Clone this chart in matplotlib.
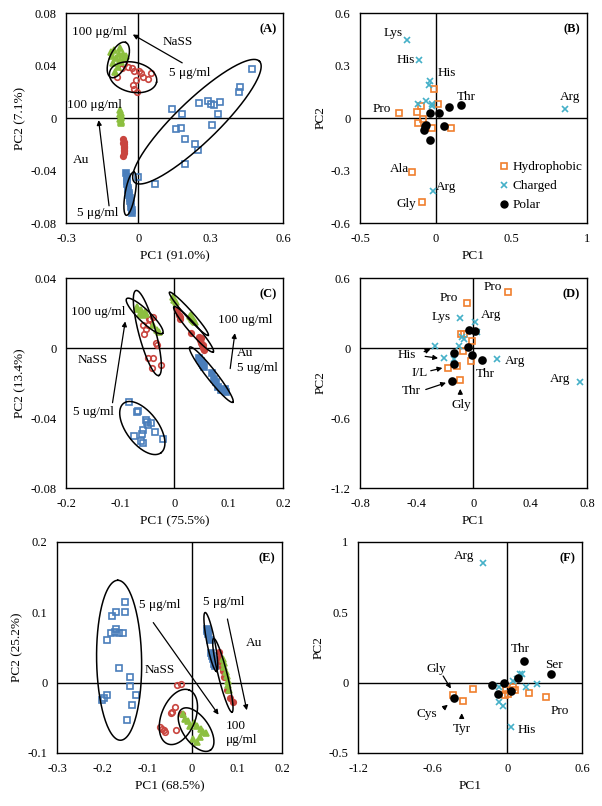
import numpy as np
import matplotlib.pyplot as plt
from matplotlib.lines import Line2D

plt.rcParams['font.family'] = ['Liberation Serif', 'DejaVu Serif']
plt.rcParams['font.size'] = 9

BLUE = '#4a7ebb'
RED = '#c9453f'
GREEN = '#8cbf3f'
ORANGE = '#f07f2e'
CYAN = '#45b0c8'

# ---------------- panel A (Au / NaSS, 5 -> 100 ug/ml)
a_nass5_x = [0.471, 0.421, 0.416, 0.251, 0.291, 0.300, 0.315, 0.337, 0.330, 0.183,
             0.140, 0.158, 0.176, 0.304, 0.192, 0.236, 0.246, 0.192, 0.070, 0.000]
a_nass5_y = [0.0375, 0.0234, 0.0196, 0.0112, 0.0132, 0.0107, 0.0097, 0.0125, 0.0033, 0.0033,
             0.0069, -0.0082, -0.0079, -0.0054, -0.0163, -0.0201, -0.0240, -0.0349, -0.0500, -0.0450]
a_nass50_x = [-0.088, -0.067, -0.061, -0.044, -0.026, -0.016, 0.002, 0.011, 0.021, 0.039,
              0.053, -0.009, -0.023, -0.019, -0.006]
a_nass50_y = [0.031, 0.038, 0.041, 0.039, 0.038, 0.036, 0.036, 0.034, 0.031, 0.030,
              0.034, 0.029, 0.025, 0.022, 0.020]
a_nass100_x = [-0.113, -0.099, -0.078, -0.062, -0.051, -0.092, -0.076, -0.106, -0.085, -0.072,
               -0.058, -0.109, -0.081, -0.095]
a_nass100_y = [0.050, 0.052, 0.053, 0.049, 0.047, 0.046, 0.044, 0.042, 0.039, 0.043,
               0.046, 0.047, 0.049, 0.035]
a_au5_x = [-0.050, -0.048, -0.046, -0.045, -0.043, -0.041, -0.040, -0.038, -0.036, -0.033,
           -0.031, -0.029, -0.027, -0.025]
a_au5_y = [-0.042, -0.045, -0.048, -0.050, -0.053, -0.055, -0.057, -0.059, -0.061, -0.063,
           -0.065, -0.068, -0.070, -0.072]
a_au50_x = [-0.062, -0.060, -0.063, -0.059, -0.061, -0.060, -0.058, -0.061, -0.059, -0.060, -0.062]
a_au50_y = [-0.016, -0.018, -0.019, -0.020, -0.021, -0.022, -0.023, -0.024, -0.025, -0.027, -0.029]
a_au100_x = [-0.074, -0.072, -0.075, -0.071, -0.073, -0.070, -0.074, -0.072, -0.071, -0.073]
a_au100_y = [0.006, 0.004, 0.003, 0.002, 0.001, 0.000, -0.001, -0.002, -0.003, -0.004]

# ---------------- panel B (loadings)
b_hyd_x = [-0.240, -0.126, -0.098, -0.009, 0.013, -0.115, -0.082, -0.023, 0.100, -0.157, -0.088]
b_hyd_y = [0.027, 0.032, 0.069, 0.164, 0.078, -0.027, -0.008, -0.055, -0.059, -0.308, -0.480]
b_chg_x = [-0.187, -0.112, -0.036, -0.042, -0.115, -0.066, -0.027, -0.023, 0.853, -0.020]
b_chg_y = [0.447, 0.329, 0.214, 0.189, 0.080, 0.099, 0.080, 0.069, 0.054, -0.417]
b_pol_x = [-0.038, 0.024, 0.087, 0.166, -0.071, -0.078, 0.058, -0.036, -0.065]
b_pol_y = [0.031, 0.027, 0.065, 0.073, -0.046, -0.069, -0.046, -0.126, -0.040]

# ---------------- panel C
c_nass5_x = [-0.083, -0.067, -0.052, -0.051, -0.049, -0.043, -0.036, -0.058, -0.059, -0.058,
             -0.075, -0.022, -0.061, -0.069]
c_nass5_y = [-0.031, -0.036, -0.041, -0.042, -0.044, -0.043, -0.048, -0.047, -0.049, -0.054,
             -0.050, -0.052, -0.053, -0.0366]
c_nass50_x = [-0.058, -0.052, -0.049, -0.046, -0.040, -0.035, -0.033, -0.049, -0.040, -0.041,
              -0.025, -0.057, -0.047]
c_nass50_y = [0.013, 0.011, 0.013, 0.0164, 0.0177, 0.003, 0.0015, -0.0057, -0.0057, -0.0114,
              -0.0095, 0.0082, 0.0168]
c_nass100_x = [-0.070, -0.064, -0.058, -0.052, -0.061, -0.055, -0.033, -0.028, -0.067, -0.040]
c_nass100_y = [0.0234, 0.0194, 0.0187, 0.0196, 0.0215, 0.0206, 0.0101, 0.0091, 0.0225, 0.013]
c_au5_x = [0.046, 0.048, 0.050, 0.052, 0.055, 0.070, 0.072, 0.076, 0.080, 0.085, 0.090, 0.093, 0.095]
c_au5_y = [-0.0055, -0.0075, -0.0085, -0.0095, -0.0110, -0.0145, -0.0175, -0.0195, -0.0225,
           -0.0240, -0.0240, -0.0235, -0.0250]
c_au50_x = [0.005, 0.008, 0.010, 0.011, 0.030, 0.045, 0.047, 0.049, 0.050, 0.052, 0.055, 0.048, 0.053]
c_au50_y = [0.0215, 0.019, 0.0165, 0.018, 0.0085, 0.0065, 0.0045, 0.0030, 0.0015, 0.000, -0.001,
            0.0055, 0.002]
c_au100_x = [-0.002, 0.000, 0.002, 0.028, 0.031, 0.033, 0.036, 0.038, 0.030, 0.034]
c_au100_y = [0.0290, 0.0275, 0.0265, 0.0185, 0.0175, 0.0165, 0.0155, 0.0148, 0.0190, 0.0160]

# ---------------- panel D
d_hyd_x = [0.242, -0.048, -0.091, -0.067, -0.010, -0.074, -0.014, -0.177, -0.115, -0.096]
d_hyd_y = [0.480, 0.389, 0.123, 0.123, 0.057, -0.029, -0.114, -0.171, -0.154, -0.277]
d_chg_x = [-0.098, 0.014, 0.026, -0.081, -0.067, -0.101, -0.273, -0.211, -0.139, 0.163, 0.752]
d_chg_y = [0.257, 0.223, 0.137, 0.094, 0.074, 0.017, 0.017, -0.086, -0.097, -0.091, -0.291]
d_pol_x = [-0.034, 0.014, -0.036, -0.134, -0.010, 0.062, -0.139, -0.153]
d_pol_y = [0.157, 0.143, 0.009, -0.040, -0.063, -0.100, -0.137, -0.280]

# ---------------- panel E
e_nass5_x = [-0.149, -0.169, -0.150, -0.177, -0.168, -0.171, -0.162, -0.154, -0.180, -0.188,
             -0.162, -0.137, -0.137, -0.124, -0.190, -0.201, -0.196, -0.134, -0.145]
e_nass5_y = [0.115, 0.101, 0.100, 0.095, 0.076, 0.072, 0.070, 0.070, 0.070, 0.060,
             0.021, 0.008, -0.005, -0.017, -0.017, -0.024, -0.022, -0.032, -0.053]
e_nass50_x = [-0.034, -0.024, -0.038, -0.045, -0.047, -0.035, -0.071, -0.066, -0.062, -0.060, -0.023]
e_nass50_y = [-0.004, -0.002, -0.035, -0.042, -0.043, -0.067, -0.063, -0.066, -0.068, -0.070, -0.044]
e_nass100_x = [-0.020, -0.015, -0.010, 0.005, 0.012, 0.020, 0.025, 0.030, 0.003, 0.010, -0.005, 0.018]
e_nass100_y = [-0.045, -0.052, -0.055, -0.058, -0.062, -0.066, -0.070, -0.072, -0.080, -0.085,
               -0.062, -0.078]
e_au5_x = [0.033, 0.035, 0.036, 0.034, 0.040, 0.042, 0.044, 0.046, 0.048, 0.050]
e_au5_y = [0.076, 0.072, 0.069, 0.074, 0.060, 0.042, 0.038, 0.033, 0.026, 0.024]
e_au50_x = [0.059, 0.062, 0.064, 0.066, 0.068, 0.072, 0.078, 0.085, 0.090]
e_au50_y = [0.044, 0.035, 0.030, 0.022, 0.016, 0.008, -0.010, -0.022, -0.027]
e_au100_x = [0.068, 0.070, 0.072, 0.075, 0.077, 0.079, 0.081, 0.083]
e_au100_y = [0.033, 0.028, 0.022, 0.015, 0.009, 0.003, -0.004, -0.010]

# ---------------- panel F
f_hyd_x = [-0.440, -0.354, -0.273, -0.010, 0.009, 0.049, 0.063, 0.178, 0.313, -0.018]
f_hyd_y = [-0.090, -0.133, -0.045, -0.054, -0.083, -0.031, -0.054, -0.073, -0.102, -0.090]
f_chg_x = [-0.193, -0.064, 0.049, 0.103, 0.116, 0.146, 0.237, -0.064, -0.031, 0.028, 0.076]
f_chg_y = [0.853, -0.031, 0.012, 0.059, 0.064, -0.031, -0.012, -0.137, -0.168, -0.315, 0.028]
f_pol_x = [-0.125, -0.074, -0.026, 0.089, 0.135, 0.350, 0.028, -0.426]
f_pol_y = [-0.019, -0.083, -0.002, 0.036, 0.154, 0.064, -0.059, -0.109]


def ellipse(ax, cx, cy, a, b, ang):
    # a, b in pixels, angle in screen degrees
    t = np.linspace(0, 2 * np.pi, 200)
    th = np.radians(ang)
    c = ax.transData.transform((cx, cy))
    dx = a * np.cos(t) * np.cos(th) - b * np.sin(t) * np.sin(th)
    dy = a * np.cos(t) * np.sin(th) + b * np.sin(t) * np.cos(th)
    pts = ax.transData.inverted().transform(np.column_stack([c[0] + dx, c[1] + dy]))
    ax.plot(pts[:, 0], pts[:, 1], color='black', lw=1.1, zorder=4)


def arrow(ax, tail, head):
    ax.annotate('', xy=head, xytext=tail,
                arrowprops=dict(arrowstyle='-|>', color='black', lw=0.9, mutation_scale=7))


def pts(ax, x, y, color, marker, filled, ms=4.5):
    ax.plot(x, y, ls='none', marker=marker, ms=ms, mec=color, mew=1.2,
            mfc=color if filled else 'none', zorder=3)


def setup(ax, xlim, ylim, xt, xtl, yt, ytl, xlabel, ylabel, tag):
    ax.set_xlim(xlim)
    ax.set_ylim(ylim)
    ax.set_xticks(xt)
    ax.set_xticklabels(xtl)
    ax.set_yticks(yt)
    ax.set_yticklabels(ytl)
    ax.tick_params(length=0, labelsize=9, pad=7)
    ax.axhline(0, color='black', lw=1, zorder=1)
    ax.axvline(0, color='black', lw=1, zorder=1)
    for sp in ax.spines.values():
        sp.set_linewidth(1)
    ax.set_xlabel(xlabel, fontsize=9.5, labelpad=4)
    ax.set_ylabel(ylabel, fontsize=9.5, labelpad=3)
    ax.text(0.97, 0.95, tag, transform=ax.transAxes, ha='right', va='top',
            fontsize=9, fontweight='bold')


fig = plt.figure(figsize=(6.02, 8.06), dpi=100)
axA = fig.add_axes([0.1096, 0.7233, 0.3605, 0.2605])
axB = fig.add_axes([0.598, 0.7233, 0.377, 0.2605])
axC = fig.add_axes([0.1096, 0.3945, 0.3605, 0.2605])
axD = fig.add_axes([0.598, 0.3945, 0.377, 0.2605])
axE = fig.add_axes([0.0947, 0.0658, 0.3738, 0.2618])
axF = fig.add_axes([0.5947, 0.0658, 0.3721, 0.2618])

TS = 9.5

# ---- A
setup(axA, (-0.3, 0.6), (-0.08, 0.08), [-0.3, 0, 0.3, 0.6], ['-0.3', '0', '0.3', '0.6'],
      [-0.08, -0.04, 0, 0.04, 0.08], ['-0.08', '-0.04', '0', '0.04', '0.08'],
      'PC1 (91.0%)', 'PC2 (7.1%)', '(A)')
pts(axA, a_nass5_x, a_nass5_y, BLUE, 's', False, 4)
pts(axA, a_nass50_x, a_nass50_y, RED, 'o', False, 4)
pts(axA, a_nass100_x, a_nass100_y, GREEN, '^', True, 4.5)
pts(axA, a_au5_x, a_au5_y, BLUE, 's', True, 4)
pts(axA, a_au50_x, a_au50_y, RED, 'o', True, 4)
pts(axA, a_au100_x, a_au100_y, GREEN, '^', True, 4)
ellipse(axA, -0.083, 0.0443, 19, 9, 67)
ellipse(axA, -0.0217, 0.0311, 24, 15, -12)
ellipse(axA, 0.243, -0.0028, 87, 21, 44)
ellipse(axA, -0.034, -0.0576, 22, 5, 80)
arrow(axA, (0.192, 0.041), (-0.033, 0.0647))
arrow(axA, (-0.120, -0.069), (-0.166, 0.0005))
for s, x, y in [('100 μg/ml', -0.161, 0.0655), ('NaSS', 0.164, 0.058), ('5 μg/ml', 0.215, 0.0346),
                ('100 μg/ml', -0.182, 0.0099), ('Au', -0.238, -0.032), ('5 μg/ml', -0.168, -0.0724)]:
    axA.text(x, y, s, ha='center', va='center', fontsize=TS)

# ---- B
setup(axB, (-0.5, 1), (-0.6, 0.6), [-0.5, 0, 0.5, 1], ['-0.5', '0', '0.5', '1'],
      [-0.6, -0.3, 0, 0.3, 0.6], ['-0.6', '-0.3', '0', '0.3', '0.6'], 'PC1', 'PC2', '(B)')
pts(axB, b_hyd_x, b_hyd_y, ORANGE, 's', False, 5)
pts(axB, b_chg_x, b_chg_y, CYAN, 'x', False, 5)
pts(axB, b_pol_x, b_pol_y, 'black', 'o', True, 5)
for s, x, y in [('Lys', -0.284, 0.485), ('His', -0.196, 0.329), ('His', 0.072, 0.260),
                ('Thr', 0.204, 0.118), ('Arg', 0.890, 0.118), ('Pro', -0.357, 0.050),
                ('Ala', -0.240, -0.294), ('Arg', 0.072, -0.394), ('Gly', -0.196, -0.493)]:
    axB.text(x, y, s, ha='center', va='center', fontsize=TS)
handles = [Line2D([], [], ls='none', marker='s', ms=5, mec=ORANGE, mfc='none', mew=1.2),
           Line2D([], [], ls='none', marker='x', ms=5, mec=CYAN, mew=1.2),
           Line2D([], [], ls='none', marker='o', ms=5, mec='black', mfc='black')]
axB.legend(handles, ['Hydrophobic', 'Charged', 'Polar'], loc='lower left',
           bbox_to_anchor=(0.56, 0.0), frameon=False, fontsize=TS, handlelength=0.8,
           handletextpad=0.2, labelspacing=0.5)

# ---- C
setup(axC, (-0.2, 0.2), (-0.08, 0.04), [-0.2, -0.1, 0, 0.1, 0.2], ['-0.2', '-0.1', '0', '0.1', '0.2'],
      [-0.08, -0.04, 0, 0.04], ['-0.08', '-0.04', '0', '0.04'], 'PC1 (75.5%)', 'PC2 (13.4%)', '(C)')
pts(axC, c_nass5_x, c_nass5_y, BLUE, 's', False, 4)
pts(axC, c_nass50_x, c_nass50_y, RED, 'o', False, 4)
pts(axC, c_nass100_x, c_nass100_y, GREEN, '^', True, 4.5)
pts(axC, c_au5_x, c_au5_y, BLUE, 's', True, 4)
pts(axC, c_au50_x, c_au50_y, RED, 'o', True, 4)
pts(axC, c_au100_x, c_au100_y, GREEN, '^', True, 4.5)
ellipse(axC, -0.0593, -0.0457, 31, 16, -53)
ellipse(axC, -0.050, 0.0086, 44, 8.5, -75)
ellipse(axC, -0.055, 0.0183, 25, 6, -44)
ellipse(axC, 0.0265, 0.0196, 29, 3.5, -48)
ellipse(axC, 0.0352, 0.0107, 30, 4.5, -49)
ellipse(axC, 0.0679, -0.0152, 35, 5, -52)
arrow(axC, (-0.115, -0.0328), (-0.090, 0.0168))
arrow(axC, (0.102, -0.0133), (0.112, 0.0101))
for s, x, y in [('100 ug/ml', -0.141, 0.0206), ('NaSS', -0.151, -0.007), ('5 ug/ml', -0.149, -0.0366),
                ('100 ug/ml', 0.130, 0.0158), ('Au', 0.130, -0.0028), ('5 ug/ml', 0.152, -0.0112)]:
    axC.text(x, y, s, ha='center', va='center', fontsize=TS)

# ---- D
setup(axD, (-0.8, 0.8), (-1.2, 0.6), [-0.8, -0.4, 0, 0.4, 0.8], ['-0.8', '-0.4', '0', '0.4', '0.8'],
      [-1.2, -0.6, 0, 0.6], ['-1.2', '-0.6', '0', '0.6'], 'PC1', 'PC2', '(D)')
pts(axD, d_hyd_x, d_hyd_y, ORANGE, 's', False, 5)
pts(axD, d_chg_x, d_chg_y, CYAN, 'x', False, 5)
pts(axD, d_pol_x, d_pol_y, 'black', 'o', True, 5)
for s, x, y in [('Pro', 0.134, 0.523), ('Pro', -0.177, 0.431), ('Lys', -0.225, 0.266),
                ('Arg', 0.127, 0.280), ('His', -0.469, -0.063), ('I/L', -0.381, -0.211),
                ('Thr', -0.441, -0.371), ('Gly', -0.086, -0.491), ('Thr', 0.081, -0.220),
                ('Arg', 0.290, -0.114), ('Arg', 0.613, -0.269)]:
    axD.text(x, y, s, ha='center', va='center', fontsize=TS)
arrow(axD, (-0.366, -0.040), (-0.285, 0.000))
arrow(axD, (-0.360, -0.068), (-0.230, -0.090))
arrow(axD, (-0.320, -0.200), (-0.200, -0.165))
arrow(axD, (-0.355, -0.363), (-0.175, -0.290))
arrow(axD, (-0.093, -0.420), (-0.093, -0.326))

# ---- E
setup(axE, (-0.3, 0.2), (-0.1, 0.2), [-0.3, -0.2, -0.1, 0, 0.1, 0.2],
      ['-0.3', '-0.2', '-0.1', '0', '0.1', '0.2'],
      [-0.1, 0, 0.1, 0.2], ['-0.1', '0', '0.1', '0.2'], 'PC1 (68.5%)', 'PC2 (25.2%)', '(E)')
pts(axE, e_nass5_x, e_nass5_y, BLUE, 's', False, 4)
pts(axE, e_nass50_x, e_nass50_y, RED, 'o', False, 4)
pts(axE, e_nass100_x, e_nass100_y, GREEN, '^', True, 5)
pts(axE, e_au5_x, e_au5_y, BLUE, 's', True, 4)
pts(axE, e_au50_x, e_au50_y, RED, 'o', True, 4)
pts(axE, e_au100_x, e_au100_y, GREEN, '^', True, 4)
ellipse(axE, -0.162, 0.0318, 80, 22.5, 91)
ellipse(axE, -0.0303, -0.0488, 29, 17, 68)
ellipse(axE, 0.009, -0.0668, 25, 13, -55)
ellipse(axE, 0.0418, 0.0578, 30, 4, -79)
ellipse(axE, 0.0685, 0.0104, 38, 4.5, -76)
arrow(axE, (-0.0897, 0.0886), (0.0625, -0.0488))
arrow(axE, (0.0774, 0.0943), (0.123, -0.0431))
for s, x, y in [('5 μg/ml', -0.0712, 0.110), ('5 μg/ml', 0.070, 0.1147), ('Au', 0.137, 0.0564),
                ('NaSS', -0.0727, 0.0185)]:
    axE.text(x, y, s, ha='center', va='center', fontsize=TS)
axE.text(0.076, -0.0716, '100\nμg/ml', ha='left', va='center', fontsize=TS, linespacing=1.3)

# ---- F
setup(axF, (-1.2, 0.6), (-0.5, 1), [-1.2, -0.6, 0, 0.6], ['-1.2', '-0.6', '0', '0.6'],
      [-0.5, 0, 0.5, 1], ['-0.5', '0', '0.5', '1'], 'PC1', 'PC2', '(F)')
pts(axF, f_hyd_x, f_hyd_y, ORANGE, 's', False, 5)
pts(axF, f_chg_x, f_chg_y, CYAN, 'x', False, 5)
pts(axF, f_pol_x, f_pol_y, 'black', 'o', True, 5)
for s, x, y in [('Arg', -0.349, 0.898), ('Thr', 0.103, 0.242), ('Ser', 0.371, 0.123),
                ('Gly', -0.574, 0.100), ('Cys', -0.644, -0.225), ('Tyr', -0.367, -0.327),
                ('Pro', 0.420, -0.204), ('His', 0.157, -0.339)]:
    axF.text(x, y, s, ha='center', va='center', fontsize=TS)
arrow(axF, (-0.528, 0.064), (-0.442, -0.059))
arrow(axF, (-0.530, -0.195), (-0.461, -0.145))
arrow(axF, (-0.367, -0.268), (-0.367, -0.197))

fig.savefig('out.png', dpi=100)
